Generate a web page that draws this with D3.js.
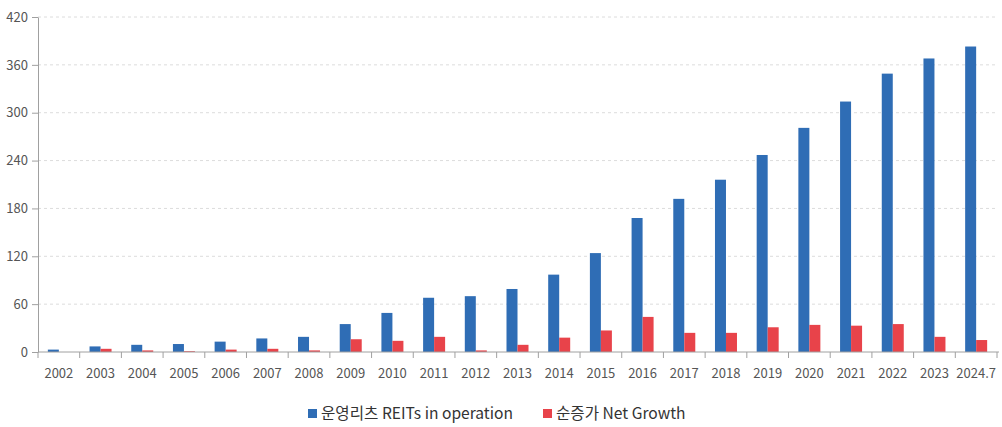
<!DOCTYPE html>
<html>
<head>
<meta charset="utf-8">
<script src="https://cdn.jsdelivr.net/npm/d3@7"></script>
<style>
  body { margin: 0; background: #fff; }
  svg { font-family: "Noto Sans CJK KR", "Noto Sans", sans-serif; }
  .grid line { stroke: #dcdcdc; stroke-dasharray: 3,3; }
  .axis path, .axis line { stroke: #a0a0a0; }
  .axis text { fill: #555; font-size: 13px; }
</style>
</head>
<body>
<svg id="chart" width="1002" height="427"></svg>
<script>
// dane
const years = ["2002","2003","2004","2005","2006","2007","2008","2009","2010","2011","2012",
  "2013","2014","2015","2016","2017","2018","2019","2020","2021","2022","2023","2024.7"];
const operating = [3,7,9,10,13,17,19,35,49,68,70,79,97,124,168,192,216,247,281,314,349,368,383];
const netGrowth = [0,4,2,1,3,4,2,16,14,19,2,9,18,27,44,24,24,31,34,33,35,19,15];
const yTicks = [0,60,120,180,240,300,360,420];
const seriesNames = ["운영리츠 REITs in operation", "순증가 Net Growth"];
const colors = ["#2f6db5", "#e8434a"];

const FONT = '"Noto Sans CJK KR", "Noto Sans", sans-serif';
const svg = d3.select("#chart");
const mLeft = 38, mRight = 997, mTop = 17, mBottom = 352;

const x = d3.scaleBand().domain(years).range([mLeft, mRight]);
const xInner = d3.scaleBand().domain([0, 1]).range([0, 22]);
const y = d3.scaleLinear().domain([0, 420]).range([mBottom, mTop]);

// siatka
svg.append("g").attr("class", "grid")
  .selectAll("line")
  .data(yTicks.filter(d => d > 0))
  .enter()
  .append("line")
  .attr("x1", mLeft).attr("x2", mRight)
  .attr("y1", d => y(d)).attr("y2", d => y(d));

// słupki
const groups = svg.append("g").selectAll("g")
  .data(years)
  .enter()
  .append("g")
  .attr("transform", d => `translate(${x(d) + (x.bandwidth() - 22) / 2},0)`);

groups.append("rect")
  .attr("x", xInner(0))
  .attr("width", xInner.bandwidth())
  .attr("y", (d, i) => y(operating[i]))
  .attr("height", (d, i) => y(0) - y(operating[i]))
  .attr("fill", colors[0]);

groups.append("rect")
  .attr("x", xInner(1))
  .attr("width", xInner.bandwidth())
  .attr("y", (d, i) => y(netGrowth[i]))
  .attr("height", (d, i) => y(0) - y(netGrowth[i]))
  .attr("fill", colors[1]);

// oś Y
svg.append("g").attr("class", "axis")
  .attr("transform", `translate(${mLeft},0)`)
  .call(d3.axisLeft(y).tickValues(yTicks).tickSize(6).tickSizeOuter(0).tickPadding(4))
  .attr("font-family", FONT).attr("font-size", 13);

// oś X
const xAxis = svg.append("g").attr("class", "axis")
  .attr("transform", `translate(0,${mBottom})`)
  .call(d3.axisBottom(x).tickSize(0).tickPadding(16.5))
  .attr("font-family", FONT).attr("font-size", 13);
xAxis.select(".domain").remove();
xAxis.append("line").attr("x1", mLeft).attr("x2", mRight + 2).attr("stroke", "#a0a0a0");
xAxis.selectAll(".sep")
  .data(years)
  .enter()
  .append("line")
  .attr("class", "sep")
  .attr("x1", d => x(d) + x.bandwidth()).attr("x2", d => x(d) + x.bandwidth())
  .attr("y1", 0).attr("y2", 6);
xAxis.append("line").attr("x1", mLeft).attr("x2", mLeft).attr("y1", 0).attr("y2", 6);

// legenda
const legendX = [308, 543];
const legend = svg.append("g").selectAll("g")
  .data(seriesNames)
  .enter()
  .append("g")
  .attr("transform", (d, i) => `translate(${legendX[i]},409)`);
legend.append("rect")
  .attr("width", 9).attr("height", 9)
  .attr("fill", (d, i) => colors[i]);
legend.append("text")
  .attr("x", 13).attr("y", 5)
  .attr("dy", "0.35em")
  .attr("font-size", 15.6)
  .attr("fill", "#333")
  .text(d => d);
</script>
</body>
</html>
